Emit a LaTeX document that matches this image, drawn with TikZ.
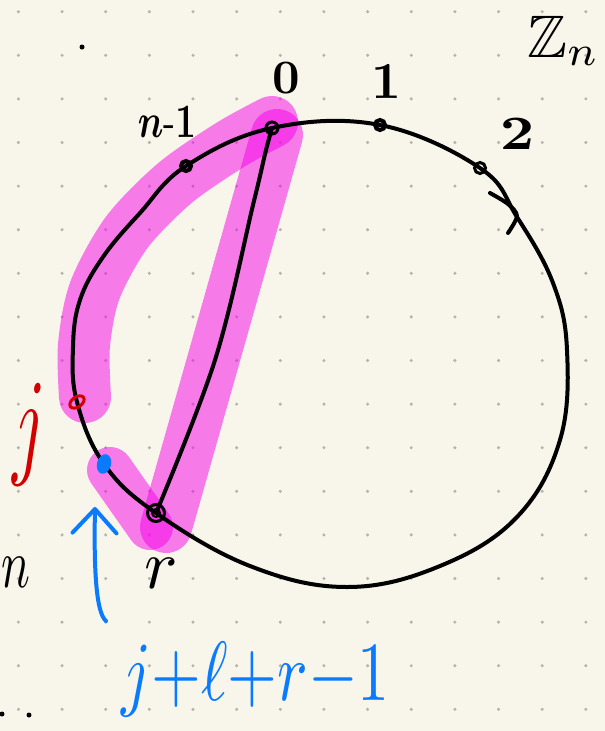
\documentclass[tikz,border=0pt]{standalone}
\usepackage{amssymb}
\usetikzlibrary{arrows.meta}

\definecolor{paper}{RGB}{248,246,234}
\definecolor{gridgray}{RGB}{180,180,174}
\definecolor{marker}{RGB}{245,0,232}
\definecolor{inkred}{RGB}{212,0,0}
\definecolor{inkblue}{RGB}{10,122,255}

\tikzset{
  ink/.style={line width=4pt, line cap=round, line join=round},
  hilite/.style={line width=52pt, line cap=round, draw=marker, opacity=0.5},
  vmark/.style={line width=3pt},
  lbl/.style={inner sep=0pt, scale=4},
}

\begin{document}
\begin{tikzpicture}[x=1pt, y=-1pt]
\useasboundingbox (0,0) rectangle (605,731);
\fill[paper] (0,0) rectangle (605,731);

% dot grid of the page
\foreach \i in {0,...,13}
  \foreach \j in {0,...,16}
    \fill[gridgray] ({18.4+43.65*\i},{11.7+43.6*\j}) circle[radius=1.7pt];

% points of Z_n
\coordinate (vZero) at (272,128);
\coordinate (vOne)  at (380,125);
\coordinate (vTwo)  at (480,168);
\coordinate (vLast) at (186,166);
\coordinate (vR)    at (156,513);
\coordinate (vJ)    at ( 77,402);
\coordinate (vJL)   at (104,464);

% highlighter strokes
\draw[hilite] plot[smooth] coordinates {(85,397) (84,345) (95,290) (127,232) (175,183) (230,145) (272,122)};
\draw[hilite] (277,135) -- (166,527);
\draw[hilite, line width=46pt] (110,470) -- (150,527);

% the cycle
\draw[ink] plot[smooth cycle, tension=0.65] coordinates {
  (vZero) (vOne) (vTwo) (517,217) (553,283) (567,350)
  (560,440) (517,517) (440,566) (347,587) (250,566)
  (vR) (vJL) (vJ) (73,347) (80,300) (103,257) (140,213) (vLast)};

% chord 0 -- r
\draw[ink] plot[smooth, tension=0.6] coordinates {
  (vZero) (266,150) (260,176) (253,205) (215,360) (vR)};

% tick near 2
\draw[ink] plot[smooth] coordinates {(490,193) (508,204) (517,216) (508,233)};

% vertex marks
\draw[vmark] (vZero) circle[radius=6pt];
\fill (vZero) circle[radius=1.5pt];
\draw[vmark, line width=4pt] (vOne) circle[radius=5pt];
\draw[vmark] (vTwo) circle[radius=5.5pt];
\draw[vmark, line width=4pt] (vLast) circle[radius=5pt];
\draw[vmark] (vR) circle[radius=8.5pt];
\draw[vmark, line width=2pt] (vR) circle[radius=4pt];
\draw[vmark, draw=inkred, rotate around={35:(vJ)}] (vJ) ellipse[x radius=8pt, y radius=5pt];
\fill[inkblue, rotate around={-15:(vJL)}] (vJL) ellipse[x radius=7pt, y radius=10pt];

% labels
\node[lbl, scale=1.2, font=\boldmath] (lZero) at (286,78) {$0$};
\node[lbl, scale=1.3, font=\boldmath] (lOne) at (386,82) {$1$};
\node[lbl, xscale=1.5, yscale=1.2, font=\boldmath] (lTwo) at (517,134) {$2$};
\node[lbl, xscale=0.9, yscale=1.2, font=\boldmath] (lLast) at (167,122) {$n$-$1$};
\node[lbl, anchor=base east, scale=1.5] (lZn) at (601,57) {$\mathbb{Z}_n$};
\node[lbl, anchor=base, scale=1.75] (lR) at (161,588) {$r$};
\node[lbl, anchor=base west, xscale=1.2, yscale=1.75] (lN) at (1,587) {$n$};
\node[lbl, anchor=base, text=inkred, xscale=1.8, yscale=3] (lJ) at (29,462) {$j$};
\node[lbl, anchor=base west, text=inkblue, xscale=1.6, yscale=2.1]
  (lJL) at (120,700) {$j{+}\ell{+}r{-}1$};

% stray dots
\fill (82,47) circle[radius=2.5pt];
\fill (2,714) circle[radius=2.5pt];
\fill (29,715) circle[radius=2.5pt];

% arrow to j+l+r-1
\coordinate (aTail) at (106,621);
\coordinate (aTip)  at (95,507);
\draw[ink, draw=inkblue, -{Straight Barb[length=24pt, width=44pt, round]}]
  (aTail) .. controls (95,612) and (94,560) .. (aTip);

\end{tikzpicture}
\end{document}
